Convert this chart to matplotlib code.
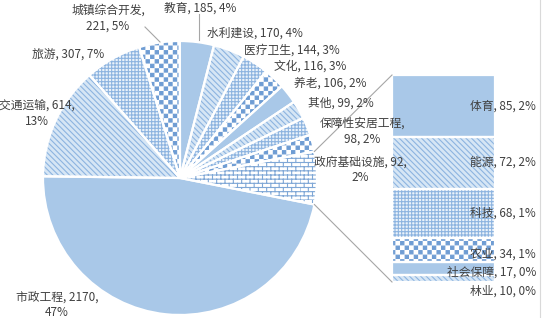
import warnings
warnings.filterwarnings("ignore")
import numpy as np
import matplotlib
matplotlib.use("Agg")
import matplotlib.pyplot as plt
import matplotlib.hatch as mhatch
from matplotlib.path import Path

# ---------------- data ----------------
pie_names = ["市政工程", "交通运输", "旅游", "城镇综合开发", "教育", "水利建设",
             "医疗卫生", "文化", "养老", "其他", "保障性安居工程", "政府基础设施"]
pie_values = [2170, 614, 307, 221, 185, 170, 144, 116, 106, 99, 98, 92]
bar_names = ["体育", "能源", "科技", "农业", "社会保障", "林业"]
bar_values = [85, 72, 68, 34, 17, 10]

# ---------------- custom hatches ----------------
class CheckerHatch:
    def __init__(self, hatch, density):
        self.n = 22 if 'k' in hatch else 0
        self.num_vertices = (self.n * self.n // 2) * 5

    def set_vertices_and_codes(self, vertices, codes):
        n = self.n
        s = 0.14
        k = 0
        for i in range(n):
            for j in range(n):
                if (i + j) % 2 == 0:
                    x0, x1 = (i + s) / n, (i + 1 - s) / n
                    y0, y1 = (j + s) / n, (j + 1 - s) / n
                    vertices[k:k + 5] = [(x0, y0), (x1, y0), (x1, y1), (x0, y1), (x0, y0)]
                    codes[k:k + 5] = [Path.MOVETO, Path.LINETO, Path.LINETO,
                                      Path.LINETO, Path.CLOSEPOLY]
                    k += 5


class BrickHatch:
    def __init__(self, hatch, density):
        self.on = 'b' in hatch
        self.rows = 24
        self.cols = 12
        self.num_vertices = (2 * self.rows + 2 * self.rows * self.cols) if self.on else 0

    def set_vertices_and_codes(self, vertices, codes):
        k = 0
        R, C = self.rows, self.cols
        for r in range(R):
            y = r / R
            vertices[k:k + 2] = [(0, y), (1, y)]
            codes[k:k + 2] = [Path.MOVETO, Path.LINETO]
            k += 2
        for r in range(R):
            off = 0.5 * (r % 2)
            for c in range(C):
                x = (c + off) / C
                vertices[k:k + 2] = [(x, r / R), (x, (r + 1) / R)]
                codes[k:k + 2] = [Path.MOVETO, Path.LINETO]
                k += 2


mhatch._hatch_types.append(CheckerHatch)
mhatch._hatch_types.append(BrickHatch)

plt.rcParams['font.family'] = ['Noto Sans CJK SC', 'DejaVu Sans']
plt.rcParams['hatch.linewidth'] = 0.8

SOLID = '#A9C8E8'
STYLES = [
    dict(face=SOLID, hatch=None, hc=SOLID),
    dict(face='#D6E6F5', hatch='\\' * 6, hc='#8DB4E0'),
    dict(face='#EAF2FA', hatch='+++++', hc='#8DB4E0'),
    dict(face='#FFFFFF', hatch='k', hc='#6E9CD3'),
]
BRICK = dict(face='#FFFFFF', hatch='b', hc='#7FA7D6')
TXT = '#404040'
FS = 8.5

W, H = 543, 318
fig = plt.figure(figsize=(W / 100, H / 100), dpi=100)
ax = fig.add_axes([0, 0, 1, 1])
ax.set_zorder(2)
ax.patch.set_alpha(0)


def Y(y):
    return H - y


total = sum(pie_values) + sum(bar_values)
other = sum(bar_values)
half_ang = other / total * 180.0
cx, cy, R = 180, Y(178), 137

vals = pie_values + [other]
wedges, _ = ax.pie(vals, center=(cx, cy), radius=R, startangle=-half_ang,
                   counterclock=False, wedgeprops=dict(linewidth=0))
for i, w in enumerate(wedges):
    st = BRICK if i == len(pie_values) else STYLES[i % 4]
    w.set_facecolor(st['face'])
    w.set_edgecolor(st['hc'])
    w.set_linewidth(0)
    if st['hatch']:
        w.set_hatch(st['hatch'])
ax.pie(vals, center=(cx, cy), radius=R, startangle=-half_ang, counterclock=False,
       wedgeprops=dict(fill=False, edgecolor='white', linewidth=1.6))

ax.set_xlim(0, W)
ax.set_ylim(0, H)
ax.axis('off')

# ---- pie labels ----
pie_label_pos = [(57, 305), (37, 114), (68, 55), (108, 18), (200, 8), (255, 33),
                 (292, 50), (310, 66), (330, 83), (341, 103), (362, 131), (360, 170)]
pie_breaks = ['value', 'value', None, 'name', None, None,
              None, None, None, None, 'name', 'value']
for name, v, (x, y), br in zip(pie_names, pie_values, pie_label_pos, pie_breaks):
    pct = round(v / total * 100)
    if br == 'name':
        s = f"{name},\n{v}, {pct}%"
    elif br == 'value':
        s = f"{name}, {v},\n{pct}%"
    else:
        s = f"{name}, {v}, {pct}%"
    ax.text(x, Y(y), s, ha='center', va='center', multialignment='center',
            fontsize=FS, color=TXT, linespacing=1.25)

# leader lines
ax.plot([199, 199], [Y(14), Y(40)], color='#A6A6A6', lw=0.8)
ax.plot([145, 160], [Y(27), Y(42)], color='#A6A6A6', lw=0.8)

# ---- bar of pie ----
bx0, bx1, by0, by1 = 392, 495, 75, 282
ax2 = fig.add_axes([bx0 / W, (H - by1) / H, (bx1 - bx0) / W, (by1 - by0) / H])
ax2.set_zorder(1)
bottoms = np.concatenate([[0], np.cumsum(bar_values)[:-1]])
bars = ax2.bar(0, bar_values, bottom=bottoms, width=1, linewidth=0)
for i, b in enumerate(bars):
    st = STYLES[i % 4]
    b.set_facecolor(st['face'])
    b.set_edgecolor(st['hc'])
    b.set_linewidth(0)
    if st['hatch']:
        b.set_hatch(st['hatch'])
ax2.bar(0, bar_values, bottom=bottoms, width=1, fill=False, edgecolor='white', linewidth=1.6)
ax2.set_xlim(-0.5, 0.5)
ax2.set_ylim(other, 0)
ax2.axis('off')

bar_label_dy = [0, 0, 0, 4, 4, 13]
xr = (536 - bx0) / (bx1 - bx0)
for name, v, b0, dy in zip(bar_names, bar_values, bottoms, bar_label_dy):
    pct = round(v / total * 100)
    ax2.annotate(f"{name}, {v}, {pct}%", xy=(xr, b0 + v / 2),
                 xycoords=('axes fraction', 'data'), xytext=(0, -dy * 0.72),
                 textcoords='offset points', ha='right', va='center',
                 fontsize=FS, color=TXT, annotation_clip=False)

# connector lines
a = np.deg2rad(half_ang)
ax.plot([cx + R * np.cos(a), bx0], [cy + R * np.sin(a), Y(by0)], color='#A6A6A6', lw=0.8)
ax.plot([cx + R * np.cos(a), bx0], [cy - R * np.sin(a), Y(by1)], color='#A6A6A6', lw=0.8)

# faint chart border on right
ax.plot([540, 540], [0, H], color='#D9D9D9', lw=0.8)

fig.savefig('out.png', dpi=100)
